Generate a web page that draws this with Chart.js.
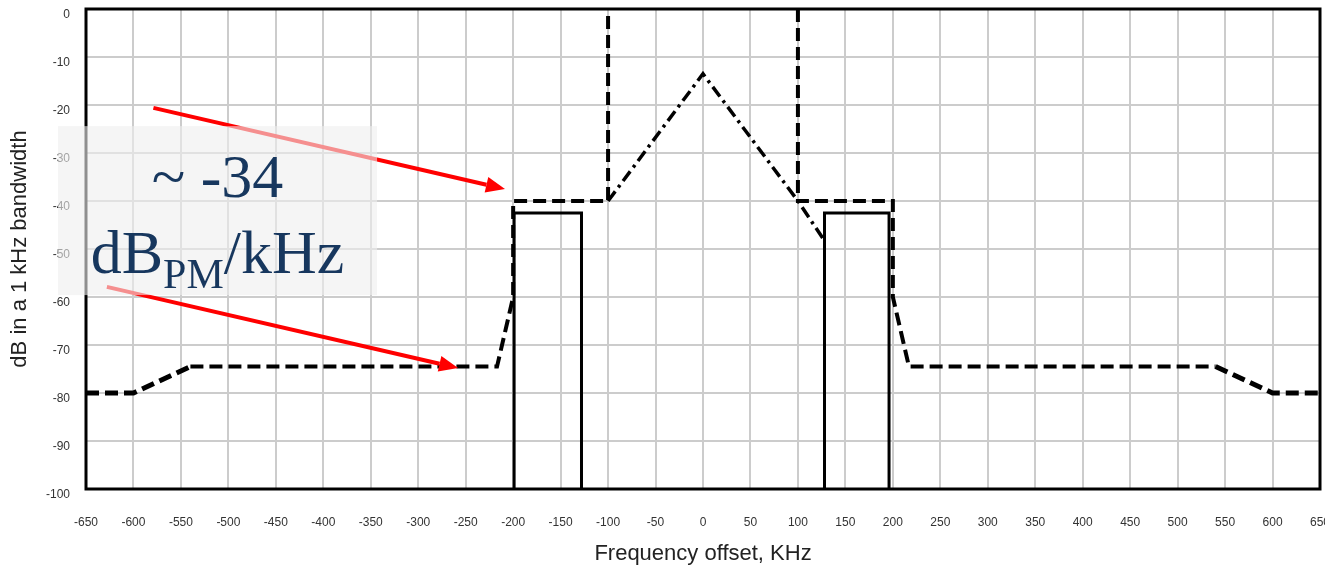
<!DOCTYPE html>
<html>
<head>
<meta charset="utf-8">
<title>Mascara espectral</title>
<script src="https://cdn.jsdelivr.net/npm/chart.js@4.4.1/dist/chart.umd.min.js"></script>
<style>
    html, body { margin: 0; padding: 0; background: #ffffff; }
    #contenedor { position: relative; width: 1325px; height: 567px; }
</style>
</head>
<body>
<div id="contenedor">
    <canvas id="mascaraChart" width="1325" height="567"></canvas>
</div>
<script>
// Mascara (linea discontinua gruesa); el null corta la linea entre -100 y 100
var mascaraX = [-650, -600, -540, -217, -200, -200, -100, -100, 0, 100, 100, 200, 200, 217, 540, 600, 650];
var mascaraY = [-80, -80, -74.5, -74.5, -60, -40, -40, 0, null, 0, -40, -40, -60, -74.5, -74.5, -80, -80];

// Espectro central (raya-punto)
var picoX = [-100, 0, 100, 127];
var picoY = [-40, -13.5, -40, -48];

// Canales adyacentes (linea continua)
var canalIzqX = [-199, -199, -128, -128];
var canalIzqY = [-100, -42.5, -42.5, -100];
var canalDerX = [128, 128, 196, 196];
var canalDerY = [-100, -42.5, -42.5, -100];

// Flechas rojas de la nota (en unidades kHz / dB)
var flechaInicioX = [-579, -628];
var flechaInicioY = [-20.6, -57.9];
var flechaFinX = [-208.6, -258];
var flechaFinY = [-37.5, -74.8];

var chart;

function puntos(xs, ys)
{
    return xs.map(function(x, i) { return { x: x, y: ys[i] }; });
}

function dibujarFlecha(ctx, x1, y1, x2, y2)
{
    var ang = Math.atan2(y2 - y1, x2 - x1);
    var largo = 19, ancho = 8;
    var bx = x2 - largo * Math.cos(ang);
    var by = y2 - largo * Math.sin(ang);

    ctx.strokeStyle = '#ff0000';
    ctx.fillStyle = '#ff0000';
    ctx.lineWidth = 4;
    ctx.beginPath();
    ctx.moveTo(x1, y1);
    ctx.lineTo(bx, by);
    ctx.stroke();

    ctx.beginPath();
    ctx.moveTo(x2, y2);
    ctx.lineTo(bx + ancho * Math.sin(ang), by - ancho * Math.cos(ang));
    ctx.lineTo(bx - ancho * Math.sin(ang), by + ancho * Math.cos(ang));
    ctx.closePath();
    ctx.fill();
}

// sin relleno automatico en los extremos de los ejes
function sinRelleno(scale)
{
    scale.paddingTop = 0;
    scale.paddingBottom = 0;
    scale.paddingLeft = 0;
    scale.paddingRight = 0;
}

// marco negro alrededor del area del grafico
const marco = {
    id: 'marco',
    afterDatasetsDraw(chart) {
        const a = chart.chartArea;
        const ctx = chart.ctx;
        ctx.save();
        ctx.strokeStyle = '#000000';
        ctx.lineWidth = 3;
        ctx.strokeRect(a.left, a.top, a.right - a.left, a.bottom - a.top);
        ctx.restore();
    }
};

// nota "~ -34 dBPM/kHz" con flechas
const nota = {
    id: 'nota',
    afterDraw(chart) {
        const ctx = chart.ctx;
        const sx = chart.scales.x;
        const sy = chart.scales.y;
        ctx.save();

        for (var i = 0; i < flechaInicioX.length; i++) {
            dibujarFlecha(ctx,
                sx.getPixelForValue(flechaInicioX[i]), sy.getPixelForValue(flechaInicioY[i]),
                sx.getPixelForValue(flechaFinX[i]), sy.getPixelForValue(flechaFinY[i]));
        }

        // caja gris semitransparente
        const x1 = sx.getPixelForValue(-679.5);
        const x2 = sx.getPixelForValue(-343.4);
        const y1 = sy.getPixelForValue(-24.4);
        const y2 = sy.getPixelForValue(-59.6);
        ctx.fillStyle = 'rgba(238, 238, 238, 0.6)';
        ctx.fillRect(x1, y1, x2 - x1, y2 - y1);

        const cx = (x1 + x2) / 2;
        ctx.fillStyle = '#17375e';
        ctx.textBaseline = 'alphabetic';
        ctx.textAlign = 'center';
        ctx.font = '62px "Liberation Serif"';
        ctx.fillText('~ -34', cx, y1 + 71);

        // segunda linea con subindice
        ctx.textAlign = 'left';
        const fGrande = '62px "Liberation Serif"';
        const fSub = '42px "Liberation Serif"';
        ctx.font = fGrande;
        const w1 = ctx.measureText('dB').width;
        const w3 = ctx.measureText('/kHz').width;
        ctx.font = fSub;
        const w2 = ctx.measureText('PM').width;
        let x = cx - (w1 + w2 + w3) / 2;
        const base = y1 + 147;
        ctx.font = fGrande;
        ctx.fillText('dB', x, base);
        x += w1;
        ctx.font = fSub;
        ctx.fillText('PM', x, base + 15);
        x += w2;
        ctx.font = fGrande;
        ctx.fillText('/kHz', x, base);

        ctx.restore();
    }
};

function crearGrafico()
{
    const ctx = document.getElementById('mascaraChart').getContext('2d');

    chart = new Chart(ctx, {
        type: 'scatter',
        data: {
            datasets: [
                {
                    label: 'Mascara',
                    data: puntos(mascaraX, mascaraY),
                    showLine: true,
                    spanGaps: false,
                    borderColor: '#000000',
                    borderWidth: 4,
                    borderDash: [13, 6],
                    pointRadius: 0,
                    fill: false,
                    segment: {
                        // los tramos exteriores se ven mas gruesos
                        borderWidth: function(c) {
                            return (Math.abs(c.p0.parsed.x) >= 540 && Math.abs(c.p1.parsed.x) >= 540) ? 5 : undefined;
                        }
                    }
                },
                {
                    label: 'Espectro',
                    data: puntos(picoX, picoY),
                    showLine: true,
                    borderColor: '#000000',
                    borderWidth: 3.5,
                    borderDash: [12, 5, 3, 5],
                    pointRadius: 0,
                    fill: false
                },
                {
                    label: 'Canal inferior',
                    data: puntos(canalIzqX, canalIzqY),
                    showLine: true,
                    borderColor: '#000000',
                    borderWidth: 3,
                    pointRadius: 0,
                    fill: false
                },
                {
                    label: 'Canal superior',
                    data: puntos(canalDerX, canalDerY),
                    showLine: true,
                    borderColor: '#000000',
                    borderWidth: 3,
                    pointRadius: 0,
                    fill: false
                }
            ]
        },
        options: {
            responsive: false,
            animation: false,
            devicePixelRatio: 1,
            layout: {
                padding: { top: 9, right: 5, left: 0, bottom: 0 }
            },
            plugins: {
                legend: { display: false },
                tooltip: { enabled: false }
            },
            scales: {
                x: {
                    type: 'linear',
                    min: -650,
                    max: 650,
                    afterFit: function(scale) { scale.height = 78; sinRelleno(scale); },
                    border: { display: false },
                    grid: { color: '#cccccc', lineWidth: 2, drawTicks: false },
                    ticks: {
                        stepSize: 50,
                        autoSkip: false,
                        maxRotation: 0,
                        padding: 26,
                        color: '#333333',
                        font: { family: '"Liberation Sans", Arial', size: 12 }
                    },
                    title: {
                        display: true,
                        text: 'Frequency offset, KHz',
                        color: '#222222',
                        padding: { top: 0, bottom: 0 },
                        font: { family: '"Liberation Sans", Arial', size: 22 }
                    }
                },
                y: {
                    type: 'linear',
                    min: -100,
                    max: 0,
                    afterFit: function(scale) { scale.width = 86; sinRelleno(scale); },
                    border: { display: false },
                    grid: { color: '#cccccc', lineWidth: 2, drawTicks: false },
                    ticks: {
                        stepSize: 10,
                        padding: 16,
                        labelOffset: 6,
                        color: '#333333',
                        font: { family: '"Liberation Sans", Arial', size: 12 }
                    },
                    title: {
                        display: true,
                        text: 'dB in a 1 kHz bandwidth',
                        color: '#222222',
                        padding: { top: 7, bottom: 0 },
                        font: { family: '"Liberation Sans", Arial', size: 22 }
                    }
                }
            }
        },
        plugins: [marco, nota]
    });
}

crearGrafico();
</script>
</body>
</html>
